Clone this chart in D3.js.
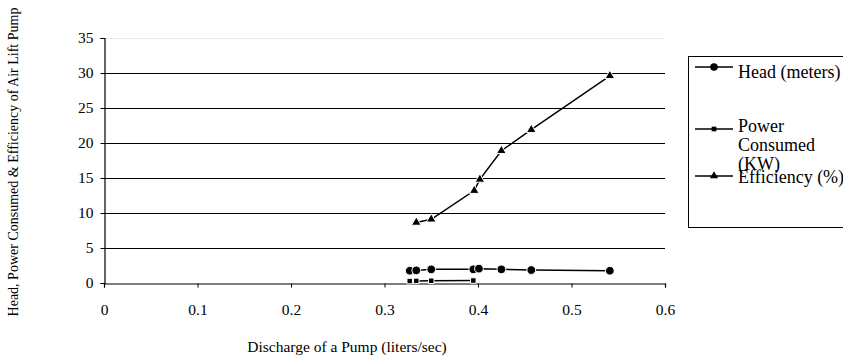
<!DOCTYPE html>
<html>
<head>
<meta charset="utf-8">
<script src="https://cdn.jsdelivr.net/npm/d3@7"></script>
<style>
  body { margin: 0; background: #fff; }
  svg text { font-family: 'Liberation Serif', 'Times New Roman', serif; fill: #000; }
</style>
</head>
<body>
<div id="chart"></div>
<script>
// values
const headX = [0.327, 0.334, 0.350, 0.395, 0.401, 0.425, 0.457, 0.541];
const headY = [1.75, 1.8, 1.95, 1.95, 2.05, 1.95, 1.85, 1.75];
const powerX = [0.327, 0.334, 0.350, 0.395];
const powerY = [0.28, 0.3, 0.32, 0.35];
const effX = [0.334, 0.350, 0.396, 0.402, 0.425, 0.457, 0.541];
const effY = [8.65, 9.1, 13.2, 14.8, 18.9, 21.9, 29.6];
const xTicks = [0, 0.1, 0.2, 0.3, 0.4, 0.5, 0.6];
const yTicks = [0, 5, 10, 15, 20, 25, 30, 35];

const width = 843, height = 356;
const margin = {top: 38, right: 178, bottom: 73, left: 104};

const svg = d3.select('#chart').append('svg')
    .attr('width', width)
    .attr('height', height);

const x = d3.scaleLinear()
    .domain([0, 0.6])
    .range([margin.left, width - margin.right]);

const y = d3.scaleLinear()
    .domain([0, 35])
    .range([height - margin.bottom, margin.top]);

// gridlines
svg.append('g')
  .selectAll('line')
    .data(yTicks.filter(d => d > 0))
  .enter().append('line')
    .attr('x1', x(0))
    .attr('x2', x(0.6))
    .attr('y1', d => Math.round(y(d)) + 0.5)
    .attr('y2', d => Math.round(y(d)) + 0.5)
    .attr('stroke', d => d === 35 ? '#e8e8e8' : '#000')
    .attr('stroke-width', 1);

const xAxis = svg.append('g')
    .attr('transform', `translate(0,${Math.round(y(0)) + 0.5})`)
    .call(d3.axisBottom(x).tickValues(xTicks).tickFormat(d3.format('')).tickSize(4).tickPadding(16));

const yAxis = svg.append('g')
    .attr('transform', `translate(${Math.round(x(0)) + 0.5},0)`)
    .call(d3.axisLeft(y).tickValues(yTicks).tickSize(4).tickPadding(7));

[xAxis, yAxis].forEach(a => {
  a.select('.domain').attr('stroke', '#000').attr('stroke-width', 1.2);
  a.selectAll('.tick line').attr('stroke', '#000');
  a.selectAll('text').attr('font-size', 15.5).attr('font-family', 'Liberation Serif');
});

// axis titles
svg.append('text')
    .attr('x', 347)
    .attr('y', 352)
    .attr('text-anchor', 'middle')
    .attr('font-size', 15.5)
    .text('Discharge of a Pump (liters/sec)');

svg.append('text')
    .attr('transform', `translate(18,162) rotate(-90)`)
    .attr('text-anchor', 'middle')
    .attr('font-size', 14)
    .text('Head, Power Consumed & Efficiency of Air Lift Pump');

const line = d3.line()
    .x(d => x(d[0]))
    .y(d => y(d[1]));

const series = [
  {name: 'head', pts: d3.zip(headX, headY), shape: d3.symbolCircle, size: 60},
  {name: 'power', pts: d3.zip(powerX, powerY), shape: d3.symbolSquare, size: 30},
  {name: 'eff', pts: d3.zip(effX, effY), shape: d3.symbolTriangle, size: 40}
];

series.forEach(s => {
  const g = svg.append('g').attr('class', `series-${s.name}`);
  g.append('path')
      .datum(s.pts)
      .attr('d', line)
      .attr('fill', 'none')
      .attr('stroke', '#000')
      .attr('stroke-width', 1.5);
  g.selectAll('path.pt')
      .data(s.pts)
    .enter().append('path')
      .attr('class', 'pt')
      .attr('transform', d => `translate(${x(d[0])},${y(d[1])})`)
      .attr('d', d3.symbol().type(s.shape).size(s.size))
      .attr('fill', '#000')
      .attr('stroke', '#fff')
      .attr('stroke-width', 1);
});

// legend
const legend = svg.append('g');
legend.append('rect')
    .attr('x', 688.5)
    .attr('y', 56.5)
    .attr('width', 170)
    .attr('height', 171)
    .attr('fill', '#fff')
    .attr('stroke', '#000')
    .attr('stroke-width', 1);

const legendItems = [
  {lines: ['Head (meters)'], shape: d3.symbolCircle, size: 45, my: 67, ty: 78},
  {lines: ['Power', 'Consumed', '(KW)'], shape: d3.symbolSquare, size: 22, my: 129, ty: 132},
  {lines: ['Efficiency (%)'], shape: d3.symbolTriangle, size: 28, my: 176, ty: 183}
];

legendItems.forEach(it => {
  legend.append('line')
      .attr('x1', 695).attr('x2', 733)
      .attr('y1', it.my).attr('y2', it.my)
      .attr('stroke', '#000')
      .attr('stroke-width', 1.5);
  legend.append('path')
      .attr('transform', `translate(714,${it.my})`)
      .attr('d', d3.symbol().type(it.shape).size(it.size))
      .attr('fill', '#000');
  it.lines.forEach((t, i) => {
    legend.append('text')
        .attr('x', 738)
        .attr('y', it.ty + i * 19)
        .attr('font-size', 18)
        .text(t);
  });
});
</script>
</body>
</html>
